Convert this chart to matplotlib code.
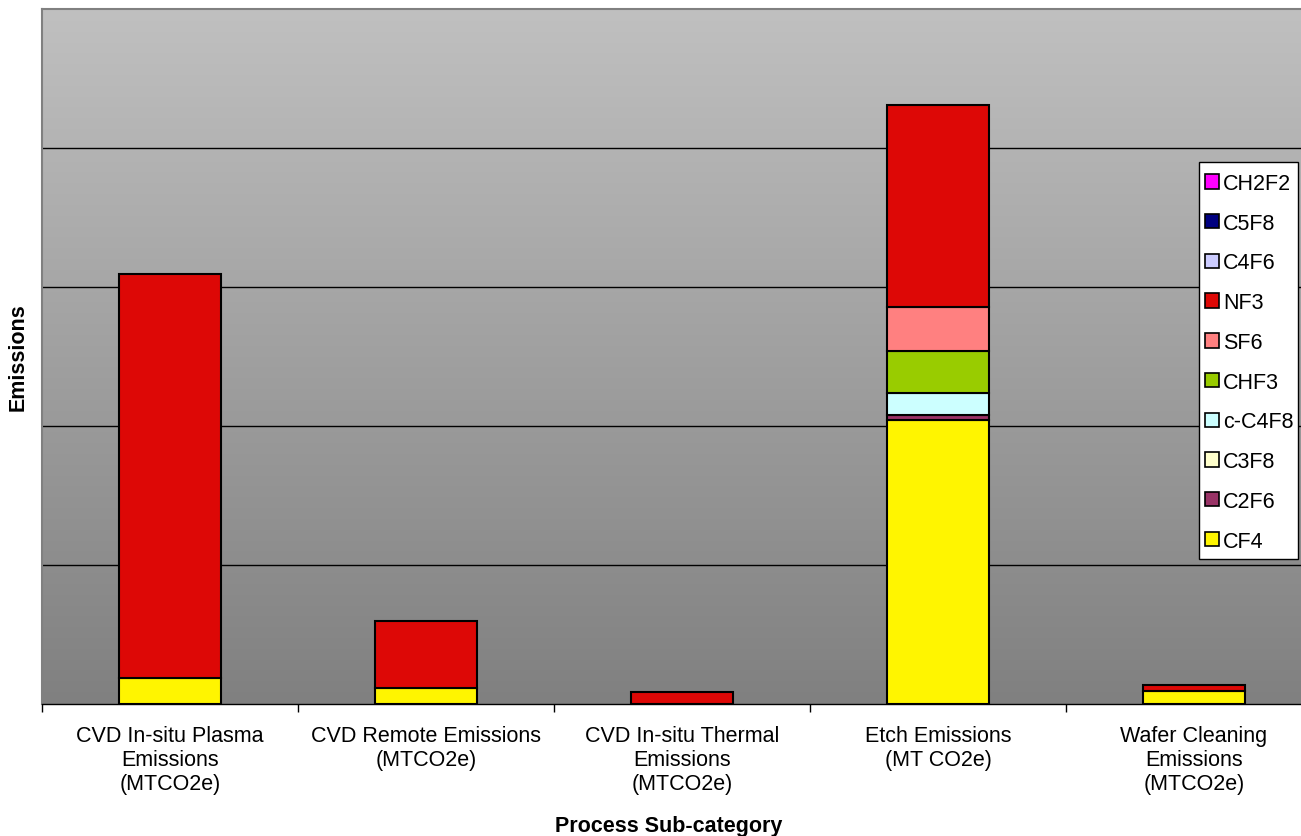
import numpy as np
import matplotlib.pyplot as plt
from matplotlib.patches import Rectangle

plt.rcParams['font.family'] = ['Liberation Sans', 'DejaVu Sans']

# Process sub-categories shown on the x axis
categories = ['CVD In-situ Plasma\nEmissions\n(MTCO2e)',
              'CVD Remote Emissions\n(MTCO2e)',
              'CVD In-situ Thermal\nEmissions\n(MTCO2e)',
              'Etch Emissions\n(MT CO2e)',
              'Wafer Cleaning\nEmissions\n(MTCO2e)']

# Gas series, stacked bottom to top
gases = ['CF4', 'C2F6', 'C3F8', 'c-C4F8', 'CHF3', 'SF6', 'NF3', 'C4F6', 'C5F8', 'CH2F2']
colors = ['#FFF500', '#993366', '#FFFFCC', '#CCFFFF', '#99CC00', '#FF8080',
          '#DD0806', '#CCCCFF', '#000080', '#FF00FF']

cf4 = [0.187, 0.115, 0.0, 2.043, 0.094]
c2f6 = [0.0, 0.0, 0.0, 0.036, 0.0]
c3f8 = [0.0, 0.0, 0.0, 0.0, 0.0]
c_c4f8 = [0.0, 0.0, 0.0, 0.158, 0.0]
chf3 = [0.0, 0.0, 0.0, 0.302, 0.0]
sf6 = [0.0, 0.0, 0.0, 0.317, 0.0]
nf3 = [2.907, 0.482, 0.086, 1.453, 0.043]
c4f6 = [0.0, 0.0, 0.0, 0.0, 0.0]
c5f8 = [0.0, 0.0, 0.0, 0.0, 0.0]
ch2f2 = [0.0, 0.0, 0.0, 0.0, 0.0]
series = [cf4, c2f6, c3f8, c_c4f8, chf3, sf6, nf3, c4f6, c5f8, ch2f2]

fig = plt.figure(figsize=(13.01, 8.37), dpi=100)
W, H = 1301, 837
ax = fig.add_axes([42 / W, 132 / H, 1280 / W, 695 / H])

x = np.arange(len(categories))
ax.set_xlim(-0.5, len(categories) - 0.5)
ax.set_ylim(0, 5)

# gray gradient plot background
grad = np.linspace(0, 1, 256).reshape(-1, 1)
top = np.array([192, 192, 192]) / 255
bot = np.array([128, 128, 128]) / 255
img = bot + (top - bot) * grad
ax.imshow(img.reshape(256, 1, 3), extent=[-0.5, len(categories) - 0.5, 0, 5],
          origin='lower', aspect='auto', zorder=0)

for yv in [1, 2, 3, 4]:
    ax.axhline(yv, color='black', lw=1, zorder=1)

bottom = np.zeros(len(categories))
handles = []
for name, vals, col in zip(gases, series, colors):
    vals = np.array(vals)
    mask = vals > 0
    ax.bar(x[mask], vals[mask], 0.4, bottom=bottom[mask], color=col,
           edgecolor='black', linewidth=1.5, zorder=3)
    handles.append(Rectangle((0, 0), 1, 1, facecolor=col, edgecolor='black', linewidth=1.2))
    bottom += vals

ax.set_yticks([])
ax.set_xticks(x)
ax.set_xticklabels(categories, fontsize=15.5, linespacing=1.2)
ax.tick_params(axis='x', which='major', length=0, pad=15)
ax.set_xticks(np.arange(-0.5, len(categories), 1), minor=True)
ax.tick_params(axis='x', which='minor', length=6, width=1, direction='out')

for side in ['top', 'left']:
    ax.spines[side].set_color('#808080')
    ax.spines[side].set_linewidth(1.5)
ax.spines['right'].set_visible(False)
ax.spines['bottom'].set_color('black')
ax.spines['bottom'].set_linewidth(1)

fig.text(18 / W, 1 - 357 / H, 'Emissions', rotation=90, fontsize=15.5,
         fontweight='bold', ha='center', va='center')
fig.text(669 / W, 1 - 827 / H, 'Process Sub-category', fontsize=15.5,
         fontweight='bold', ha='center', va='center')

# legend box drawn separately so its padding can differ per side
fig.patches.append(Rectangle((1199 / W, 1 - 560 / H), 99 / W, 397 / H,
                             transform=fig.transFigure, facecolor='white',
                             edgecolor='black', linewidth=1, zorder=4))
leg = fig.legend(handles[::-1], gases[::-1], loc='upper left',
                 bbox_to_anchor=(1205 / W, 1 - 174 / H), fontsize=15.5,
                 frameon=False, borderpad=0,
                 handlelength=0.65, handleheight=0.65, handletextpad=0.2,
                 labelspacing=0.87, borderaxespad=0)
leg.set_zorder(5)

fig.savefig('out.png', dpi=100)
